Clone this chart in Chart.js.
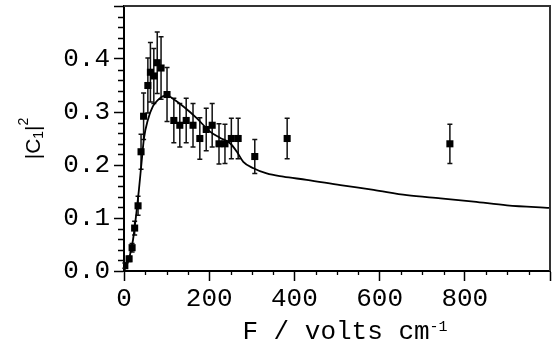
<!DOCTYPE html>
<html>
<head>
<meta charset="utf-8">
<script src="https://cdn.jsdelivr.net/npm/chart.js@4.4.1/dist/chart.umd.min.js"></script>
<style>
  html, body { margin: 0; padding: 0; background: #fff; }
  #wrap { width: 556px; height: 350px; }
</style>
</head>
<body>
<div id="wrap"><canvas id="c1Chart" width="556" height="350"></canvas></div>
<script>
// ── Measured points: field F (V/cm), |C1|^2 and its error ───────────────────
const fieldF = [2, 12, 19, 25, 33, 40, 46, 56, 62, 70, 78, 87, 101, 117, 131, 146, 162, 178, 193, 207, 223, 237, 252, 268, 307, 383, 765];
const c1sq   = [0.010, 0.023, 0.044, 0.081, 0.123, 0.225, 0.292, 0.350, 0.375, 0.368, 0.393, 0.383, 0.333, 0.284, 0.275, 0.284, 0.275, 0.250, 0.267, 0.275, 0.240, 0.240, 0.250, 0.250, 0.216, 0.250, 0.240];
const c1err  = [0.005, 0.005, 0.008, 0.013, 0.018, 0.033, 0.044, 0.052, 0.056, 0.052, 0.058, 0.059, 0.051, 0.042, 0.041, 0.042, 0.041, 0.039, 0.040, 0.041, 0.038, 0.037, 0.038, 0.038, 0.032, 0.038, 0.037];

// ── Calculated curve ─────────────────────────────────────────────────────────
const fitF = [0, 5, 13, 21, 29, 35, 41, 47, 56, 68, 80, 92, 102, 115, 143, 170, 202, 226, 249, 265, 280, 304, 335, 374, 429, 508, 586, 664, 743, 821, 899, 1000];
const fitC = [0, 0.008, 0.027, 0.058, 0.109, 0.153, 0.203, 0.251, 0.285, 0.311, 0.323, 0.330, 0.331, 0.325, 0.308, 0.289, 0.263, 0.251, 0.241, 0.225, 0.206, 0.194, 0.184, 0.178, 0.172, 0.162, 0.153, 0.143, 0.137, 0.131, 0.124, 0.119];

// ── Axes ─────────────────────────────────────────────────────────────────────
const xTicks      = [0, 200, 400, 600, 800, 1000];
const xTickLabels = ['0', '200', '400', '600', '800', ''];
const yTicks      = [0, 0.1, 0.2, 0.3, 0.4, 0.5];
const yTickLabels = ['0.0', '0.1', '0.2', '0.3', '0.4', ''];
const xMinorStep = 50;
const yMinorStep = 0.02;

const MONO = "'Liberation Mono', 'Courier New', monospace";
const SANS = "'Liberation Sans', Arial, sans-serif";

function toPoints(xs, ys) {
    return xs.map((x, i) => ({ x: x, y: ys[i] }));
}

// barras de error (verticales con topes)
const errorBars = {
    id: 'errorBars',
    beforeDatasetsDraw(chart) {
        const { ctx, scales: { x, y } } = chart;
        ctx.save();
        ctx.strokeStyle = '#111';
        ctx.lineWidth = 1.5;
        fieldF.forEach((f, i) => {
            const px = x.getPixelForValue(f);
            const yt = y.getPixelForValue(c1sq[i] + c1err[i]);
            const yb = y.getPixelForValue(c1sq[i] - c1err[i]);
            ctx.beginPath();
            ctx.moveTo(px, yt); ctx.lineTo(px, yb);
            ctx.moveTo(px - 2.5, yt); ctx.lineTo(px + 2.5, yt);
            ctx.moveTo(px - 2.5, yb); ctx.lineTo(px + 2.5, yb);
            ctx.stroke();
        });
        ctx.restore();
    }
};

// marco, ticks menores y títulos de ejes
const frameAndTitles = {
    id: 'frameAndTitles',
    afterDraw(chart) {
        const { ctx, chartArea: a, scales: { x, y } } = chart;
        ctx.save();
        // frame top + right
        ctx.strokeStyle = '#333';
        ctx.lineWidth = 2;
        ctx.beginPath();
        ctx.moveTo(a.left, a.top); ctx.lineTo(a.right, a.top); ctx.lineTo(a.right, a.bottom);
        ctx.stroke();

        // minor ticks
        ctx.strokeStyle = '#000';
        ctx.lineWidth = 1.3;
        ctx.beginPath();
        for (let v = x.min; v <= x.max + 1e-9; v += xMinorStep) {
            if (xTicks.includes(v)) continue;
            const px = Math.round(x.getPixelForValue(v)) + 0.5;
            ctx.moveTo(px, a.bottom); ctx.lineTo(px, a.bottom + 4);
        }
        for (let k = 0; k * yMinorStep <= y.max + 1e-9; k++) {
            if (k % 5 === 0) continue;
            const py = Math.round(y.getPixelForValue(k * yMinorStep)) + 0.5;
            ctx.moveTo(a.left - 6, py); ctx.lineTo(a.left, py);
        }
        ctx.stroke();

        // x title: F / volts cm^-1
        ctx.fillStyle = '#000';
        ctx.textBaseline = 'alphabetic';
        ctx.textAlign = 'left';
        const mainTxt = 'F / volts cm', supTxt = '-1';
        ctx.font = '26px ' + MONO;
        const wMain = ctx.measureText(mainTxt).width;
        ctx.font = '15px ' + MONO;
        const wSup = ctx.measureText(supTxt).width;
        const cx = (a.left + a.right) / 2 + 8;
        let sx = cx - (wMain + wSup) / 2;
        ctx.font = '26px ' + MONO;
        ctx.fillText(mainTxt, sx, 339);
        ctx.font = '15px ' + MONO;
        ctx.fillText(supTxt, sx + wMain, 331);

        // y title: |C1|^2 (rotado)
        ctx.translate(40, (a.top + a.bottom) / 2);
        ctx.rotate(-Math.PI / 2);
        const parts = [
            { t: '|C', f: '21px ' + SANS, dy: 0 },
            { t: '1', f: '14px ' + SANS, dy: 3 },
            { t: '|', f: '21px ' + SANS, dy: 0 },
            { t: '2', f: '14px ' + SANS, dy: -12 }
        ];
        let total = 0;
        parts.forEach(p => { ctx.font = p.f; p.w = ctx.measureText(p.t).width; total += p.w; });
        let tx = -total / 2;
        parts.forEach(p => { ctx.font = p.f; ctx.fillText(p.t, tx, p.dy); tx += p.w; });
        ctx.restore();
    }
};

const chart = new Chart(document.getElementById('c1Chart').getContext('2d'), {
    type: 'line',
    data: {
        datasets: [
            {
                label: 'medido',
                type: 'scatter',
                data: toPoints(fieldF, c1sq),
                pointStyle: 'rect',
                pointRadius: 5,
                backgroundColor: '#000',
                borderColor: '#000',
                borderWidth: 0,
                order: 0
            },
            {
                label: 'calculado',
                data: toPoints(fitF, fitC),
                borderColor: '#000',
                borderWidth: 1.8,
                pointRadius: 0,
                fill: false,
                cubicInterpolationMode: 'monotone',
                order: 1
            }
        ]
    },
    options: {
        responsive: false,
        animation: false,
        layout: { padding: { top: 6, right: 6, left: 0, bottom: 0 } },
        plugins: { legend: { display: false }, tooltip: { enabled: false } },
        scales: {
            x: {
                type: 'linear',
                min: 0,
                max: 1000,
                afterBuildTicks: (s) => { s.ticks = xTicks.map(v => ({ value: v })); },
                afterFit: (s) => { s.height = 79; s.paddingLeft = 0; s.paddingRight = 0; },
                ticks: {
                    autoSkip: false,
                    maxRotation: 0,
                    padding: 3,
                    color: '#000',
                    font: { family: MONO, size: 26 },
                    callback: (v, i) => xTickLabels[i]
                },
                grid: { drawOnChartArea: false, tickLength: 10, tickColor: '#000', tickWidth: 1.5 },
                border: { color: '#000', width: 2 }
            },
            y: {
                type: 'linear',
                min: 0,
                max: 0.5,
                afterBuildTicks: (s) => { s.ticks = yTicks.map(v => ({ value: v })); },
                afterFit: (s) => { s.width = 124; s.paddingTop = 0; s.paddingBottom = 0; },
                ticks: {
                    autoSkip: false,
                    padding: 4,
                    color: '#000',
                    font: { family: MONO, size: 26 },
                    callback: (v, i) => yTickLabels[i]
                },
                grid: { drawOnChartArea: false, tickLength: 10, tickColor: '#000', tickWidth: 1.5 },
                border: { color: '#000', width: 2 }
            }
        }
    },
    plugins: [errorBars, frameAndTitles]
});
</script>
</body>
</html>
